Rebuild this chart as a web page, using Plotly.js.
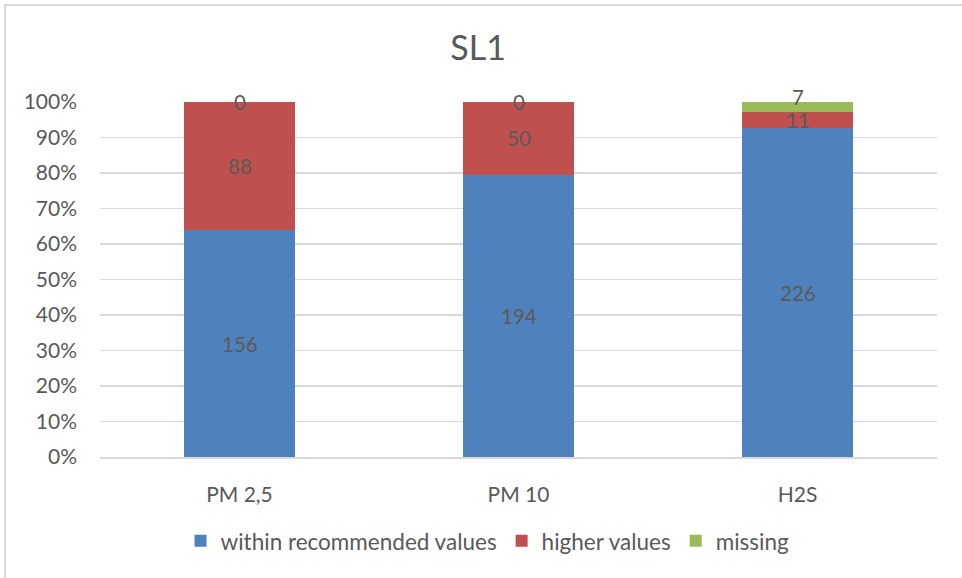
<!DOCTYPE html>
<html>
<head>
<meta charset="utf-8">
<script src="https://cdn.plot.ly/plotly-3.0.1.min.js"></script>
<style>
html,body{margin:0;padding:0;background:#fff;}
#wrap{position:absolute;left:0;top:0;width:962px;height:578px;}
#frame{position:absolute;left:4px;top:4px;width:970px;height:590px;border-left:2px solid #d9d9d9;border-top:2px solid #d9d9d9;box-sizing:border-box;pointer-events:none;}
#chart{position:absolute;left:0;top:0;width:962px;height:578px;}
</style>
</head>
<body>
<div id="wrap"><div id="chart"></div><div id="frame"></div></div>
<script>
var categories = ["PM 2,5", "PM 10", "H2S"];
var seriesNames = ["within recommended values", "higher values", "missing"];
var withinValues = [156, 194, 226];
var higherValues = [88, 50, 11];
var missingValues = [0, 0, 7];
var tickLabels = ["0%","10%","20%","30%","40%","50%","60%","70%","80%","90%","100%"];
var tickValues = [0,10,20,30,40,50,60,70,80,90,100];
var colors = ["#4f81bd", "#c0504d", "#9bbb59"];

var series = [withinValues, higherValues, missingValues];
var font = "Lato, 'Open Sans', sans-serif";
var pxPerPct = 3.55;

var traces = series.map(function(vals, i){
  return {
    type: "bar",
    name: seriesNames[i],
    x: categories,
    y: vals,
    marker: {color: colors[i]},
    width: 0.4,
    hoverinfo: "none"
  };
});

// data labels at segment midpoints; small overlapping labels are nudged up
var annotations = [];
categories.forEach(function(cat, c){
  var total = 0;
  series.forEach(function(v){ total += v[c]; });
  var cum = 0, prevY = -100;
  series.forEach(function(v){
    var pct = v[c] / total * 100;
    var mid = cum + pct / 2;
    var y = mid;
    if (y - prevY < 6.5) y = prevY + 6.5;
    annotations.push({
      x: cat, y: mid, xref: "x", yref: "y",
      yshift: (y - mid) * pxPerPct,
      text: String(v[c]), showarrow: false,
      xanchor: "center", yanchor: "middle",
      font: {family: font, size: 20.5, color: "#5a5a5a"}
    });
    prevY = y;
    cum += pct;
  });
});

var layout = {
  width: 962, height: 578,
  paper_bgcolor: "rgba(0,0,0,0)", plot_bgcolor: "rgba(0,0,0,0)",
  barmode: "stack",
  barnorm: "percent",
  bargap: 0.6,
  margin: {l: 100, r: 25, t: 102, b: 121},
  title: {text: "SL1", x: 0.497, xanchor: "center", y: 0.917, yanchor: "middle",
          font: {family: font, size: 34, color: "#595959"}},
  xaxis: {
    showgrid: false, zeroline: false, showline: true, linecolor: "#d9d9d9", linewidth: 1.5,
    ticks: "", ticklabelstandoff: 18, tickfont: {family: font, size: 21, color: "#595959"}
  },
  yaxis: {
    range: [0, 100], tickvals: tickValues, ticktext: tickLabels,
    showgrid: true, gridcolor: "#d9d9d9", gridwidth: 1.5, zeroline: false, showline: false,
    ticks: "", ticklen: 0, ticklabelstandoff: 22, tickfont: {family: font, size: 21, color: "#595959"}
  },
  showlegend: true,
  legend: {orientation: "h", x: 0.463, xanchor: "center", y: -0.237, yanchor: "middle",
           font: {family: font, size: 22.5, color: "#595959"}, traceorder: "normal",
           itemwidth: 30},
  annotations: annotations
};

Plotly.newPlot("chart", traces, layout, {displayModeBar: false, staticPlot: true});
</script>
</body>
</html>
